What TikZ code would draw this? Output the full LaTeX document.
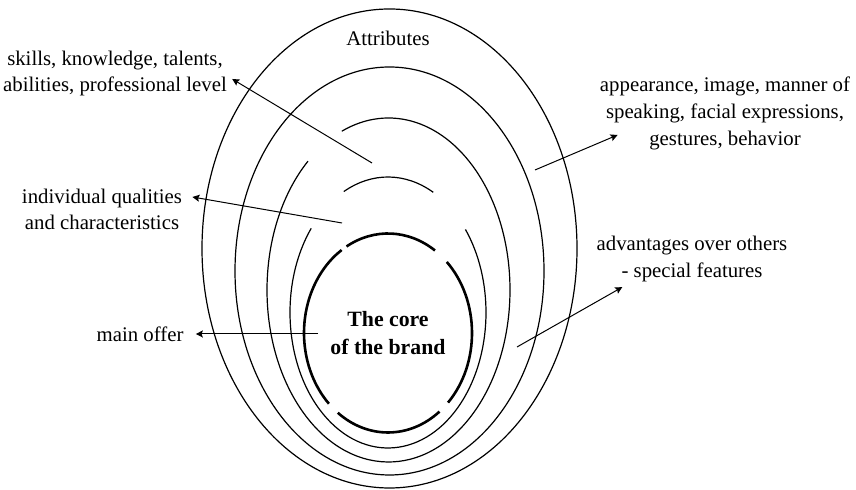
\documentclass[tikz,border=0pt]{standalone}
\usepackage{fontspec}
\setmainfont{Liberation Serif}
\usetikzlibrary{arrows.meta}
\begin{document}
\begin{tikzpicture}[x=5pt,y=5pt,
        ring/.style={line width=0.6pt},
        corering/.style={line width=1.3pt},
        txt/.style={align=center, inner sep=2.5pt, font=\fontsize{10.4}{13.3}\selectfont},
        arr/.style={line width=0.5pt, -{Stealth[length=3.5pt,width=3.5pt,inset=0.6pt]}}]
                \useasboundingbox (0,0) rectangle (85.6,49);

                \coordinate (c1) at (38.95,24.15);
                \coordinate (c2) at (38.95,21.9);
                \coordinate (c3) at (38.85,20.0);
                \coordinate (c4) at (38.8,17.75);

                \draw[ring] (c1) ellipse [x radius=18.75, y radius=23.95];
                \draw[ring] (c2) ellipse [x radius=15.45, y radius=20.4];
                \draw[ring] ([shift={(131.5:12.15 and 17.2)}]c3) arc [start angle=131.5, end angle=472.6, x radius=12.15, y radius=17.2];
                \draw[ring] ([shift={(62.5:9.8 and 13.55)}]c4) arc [start angle=62.5, end angle=116.8, x radius=9.8, y radius=13.55];
                \draw[ring] ([shift={(141.6:9.8 and 13.55)}]c4) arc [start angle=141.6, end angle=397.8, x radius=9.8, y radius=13.55];

                \node[font=\fontsize{10.9}{14.2}\selectfont\bfseries, align=center] (core) at (38.8,15.7) {The core\\of the brand};
                \draw[corering] ([shift={(56:8.4 and 9.95)}]core.center) arc [start angle=56, end angle=119.6, x radius=8.4, y radius=9.95];
                \draw[corering] ([shift={(123.5:8.4 and 9.95)}]core.center) arc [start angle=123.5, end angle=225.3, x radius=8.4, y radius=9.95];
                \draw[corering] ([shift={(233.3:8.4 and 9.95)}]core.center) arc [start angle=233.3, end angle=307.8, x radius=8.4, y radius=9.95];
                \draw[corering] ([shift={(315.6:8.4 and 9.95)}]core.center) arc [start angle=315.6, end angle=405.6, x radius=8.4, y radius=9.95];

                \node[txt] (attr) at (38.8,45.15) {Attributes};
                \node[txt] (skills) at (11.5,41.65) {skills, knowledge, talents,\\abilities, professional level};
                \node[txt] (indiv) at (10.2,28.05) {individual qualities\\and characteristics};
                \node[txt] (main) at (14.0,15.6) {main offer};
                \node[txt] (appear) at (72.5,37.65) {appearance, image, manner of\\speaking, facial expressions,\\gestures, behavior};
                \node[txt] (advan) at (69.2,23.1) {advantages over others\\- special features};

                \coordinate (skillsfrom) at (37.2,32.7);
                \coordinate (indivfrom) at (34.2,26.7);
                \coordinate (mainfrom) at (31.8,15.6);
                \coordinate (appearfrom) at (53.5,32.0);
                \coordinate (advanfrom) at (51.7,14.3);

                \draw[arr] (skillsfrom) -- ([yshift=-2.75pt]skills.east);
                \draw[arr] (indivfrom) -- ([shift={(2.5pt,6.25pt)}]indiv.east);
                \draw[arr] (mainfrom) -- ([xshift=3.5pt]main.east);
                \draw[arr] (appearfrom) -- ([shift={(11.5pt,-10.75pt)}]appear.west);
                \draw[arr] (advanfrom) -- ([xshift=15.5pt]advan.south west);
            \end{tikzpicture}
\end{document}
